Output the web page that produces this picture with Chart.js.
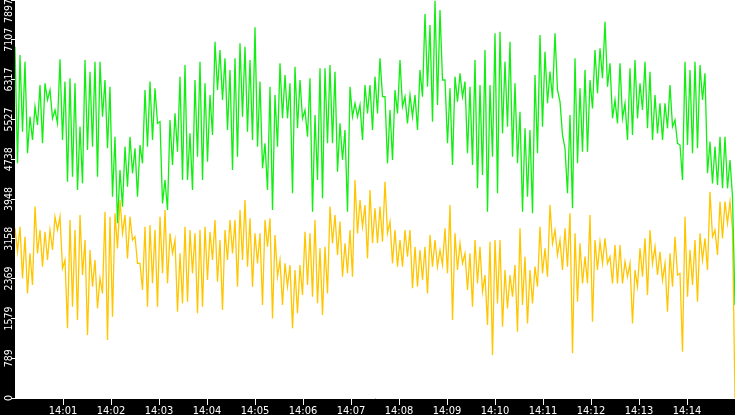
<!DOCTYPE html>
<html>
<head>
<meta charset="utf-8">
<script src="https://cdn.jsdelivr.net/npm/chart.js@4/dist/chart.umd.min.js"></script>
<style>
  html, body { margin: 0; padding: 0; background: #000; }
  canvas { display: block; }
</style>
</head>
<body>
<canvas id="tickChart" width="735" height="415"></canvas>
<script>
// Two tick series, 14:00 - 14:15, one value every sampleStep seconds
const sampleStep = 900 / 288;

const greenVals = [
  6971, 4656, 6806, 5284, 6673, 4855, 5582, 5119, 5781, 5417,
  6210, 5053, 6243, 5913, 6111, 5549, 5714, 5450, 6720, 5119,
  6277, 4292, 6343, 4392, 6243, 4127, 5384, 4259, 6706, 4921,
  6475, 4987, 6673, 4392, 6673, 5582, 6310, 4954, 6177, 3995,
  5185, 3466, 4524, 3796, 4987, 4193, 5185, 4458, 4954, 3995,
  5020, 4656, 6111, 4987, 6277, 5119, 6144, 5450, 5483, 3862,
  4325, 3730, 5516, 4623, 5648, 4888, 6376, 4325, 6607, 4325,
  5251, 4127, 6310, 4788, 6673, 4325, 6243, 4689, 6012, 5218,
  7070, 6111, 6905, 5913, 6740, 5318, 6508, 4524, 6740, 4788,
  7037, 5582, 6971, 5284, 6706, 5119, 7355, 4987, 6277, 4557,
  5053, 4127, 6177, 3730, 6012, 4987, 6640, 5549, 6409, 5549,
  6243, 4061, 6574, 5351, 6310, 5549, 5714, 5185, 6343, 3697,
  5615, 4325, 6541, 3962, 6541, 5053, 6607, 5053, 6475, 4491,
  5450, 4722, 5318, 3697, 6177, 5582, 5847, 5582, 5814, 5119,
  6210, 5648, 6210, 5318, 6376, 5648, 6740, 5979, 5979, 4656,
  5714, 4722, 6111, 5648, 6706, 5781, 5979, 5450, 6012, 5582,
  6012, 5318, 6508, 5979, 7619, 6177, 7401, 5483, 7880, 5814,
  7699, 6310, 6310, 5053, 6144, 4623, 6376, 5880, 6442, 5979,
  6277, 4855, 6177, 4623, 6706, 4160, 6210, 4425, 6905, 3697,
  6210, 4788, 7236, 4061, 7269, 5251, 6673, 5384, 7070, 4788,
  6243, 4656, 5681, 3697, 5351, 3995, 5318, 3664, 6409, 4855,
  7203, 5384, 6872, 5847, 6475, 5946, 7236, 6111, 5880, 5218,
  4954, 4061, 5615, 3763, 6740, 4656, 6144, 4888, 6508, 4888,
  6310, 5747, 6905, 6045, 6938, 6343, 7467, 6177, 6640, 5549,
  5913, 5450, 6640, 5549, 5847, 5119, 6541, 5218, 6706, 5549,
  6243, 5714, 6673, 5351, 6475, 5119, 6012, 5251, 5847, 5119,
  5847, 5351, 6210, 5384, 5516, 5053, 5020, 4325, 6673, 5020,
  6508, 4855, 6673, 4954, 6607, 5913, 6442, 4458, 5086, 4259,
  4987, 4226, 5185, 4160, 5185, 4160, 4722, 3995,
  1845
];

const goldVals = [
  3366, 2903, 3399, 2374, 3201, 2076, 2870, 2242, 3797, 2870,
  3333, 2606, 3300, 2738, 3333, 2936, 3598, 3333, 3598, 2573,
  2738, 1382, 3532, 1812, 3333, 1548, 3631, 2441, 3135, 1250,
  2936, 2209, 2738, 1779, 2374, 2076, 3697, 1151, 3598, 1613,
  3664, 2969, 3929, 3267, 3631, 2771, 3598, 3135, 3201, 2672,
  2672, 2143, 3399, 1812, 3432, 2275, 3333, 1812, 3598, 2474,
  3730, 2275, 3267, 2870, 3135, 1713, 2870, 1878, 3399, 1911,
  3333, 2474, 3267, 1680, 3333, 1812, 3399, 2341, 3300, 2738,
  3532, 2308, 3135, 1746, 3333, 2738, 3532, 2870, 3532, 2209,
  3730, 2738, 3929, 2606, 3565, 2209, 3267, 2672, 3267, 1845,
  3532, 3002, 3565, 1580, 3234, 2408, 2738, 1845, 2672, 2209,
  2639, 1382, 2540, 1680, 2639, 2043, 3300, 2242, 3267, 2010,
  3532, 1878, 2969, 1646, 3002, 2076, 3797, 3069, 3631, 2837,
  3499, 2408, 3069, 2474, 3333, 2408, 4326, 3267, 3929, 3399,
  3830, 2771, 4127, 3069, 3764, 3069, 3797, 3102, 4292, 3267,
  3499, 2672, 3333, 2606, 3135, 2606, 3333, 2804, 3333, 2176,
  3002, 2209, 2936, 2341, 3002, 2076, 3234, 2606, 3135, 2606,
  2936, 2639, 3366, 2474, 3830, 1548, 3267, 2540, 3069, 2672,
  2870, 2143, 2870, 1812, 3135, 2275, 3002, 2110, 2441, 1448,
  3102, 853, 3135, 1878, 3135, 1415, 2540, 1779, 2441, 2010,
  2639, 1316, 3366, 1845, 2804, 1481, 2540, 1878, 2606, 2209,
  3399, 2474, 2969, 2408, 3830, 3069, 3333, 2837, 3135, 2540,
  3366, 2606, 3664, 886, 3267, 1911, 3069, 2275, 2804, 2275,
  3631, 1514, 3135, 2540, 3102, 2672, 3168, 2672, 2804, 2275,
  3036, 2275, 3036, 2275, 2705, 2408, 2672, 1481, 2540, 2209,
  2969, 2408, 3168, 2043, 3333, 2672, 3002, 2441, 2903, 2341,
  2672, 1713, 2870, 2209, 3201, 2441, 2474, 919, 3598, 2010,
  2936, 2242, 3135, 1911, 3267, 2738, 3168, 2540, 4094, 3201,
  3333, 2837, 3896, 3168, 3896, 3466, 3896, 3333,
  0
];

// axis ticks (seconds after 14:00 on x)
const xTickSeconds = [60, 120, 180, 240, 300, 360, 420, 480, 540, 600, 660, 720, 780, 840];
const xTickLabels = ['14:01', '14:02', '14:03', '14:04', '14:05', '14:06', '14:07',
                     '14:08', '14:09', '14:10', '14:11', '14:12', '14:13', '14:14'];
const yMax = 7897;
const yTickValues = [0, 789.7, 1579.4, 2369.1, 3158.8, 3948.5, 4738.2, 5527.9, 6317.6, 7107.3, 7897];
const yTickLabels = ['0', '789', '1579', '2369', '3158', '3948', '4738', '5527', '6317', '7107', '7897'];

const labelFont = '"DejaVu Sans Condensed", "DejaVu Sans", sans-serif';

function toPoints(vals) {
  return vals.map((v, i) => ({ x: i * sampleStep, y: v }));
}

// black frame, white plot area, rotated y labels
const framePlugin = {
  id: 'frame',
  beforeDraw(chart) {
    const { ctx, chartArea: a } = chart;
    ctx.save();
    ctx.fillStyle = '#000';
    ctx.fillRect(0, 0, chart.width, chart.height);
    ctx.fillStyle = '#fff';
    ctx.fillRect(a.left, a.top, a.right - a.left, a.bottom - a.top);
    ctx.restore();
  },
  afterDraw(chart) {
    const { ctx } = chart;
    const ys = chart.scales.y;
    ctx.save();
    ctx.fillStyle = '#fff';
    ctx.font = '10.5px ' + labelFont;
    ctx.textAlign = 'center';
    ctx.textBaseline = 'alphabetic';
    ys.ticks.forEach((t, i) => {
      const label = yTickLabels[i];
      const w = ctx.measureText(label).width;
      const y = Math.max(ys.getPixelForTick(i), w / 2 - 1);
      ctx.save();
      ctx.translate(12, y);
      ctx.rotate(-Math.PI / 2);
      ctx.fillText(label, 0, 0);
      ctx.restore();
    });
    ctx.restore();
  }
};

new Chart(document.getElementById('tickChart'), {
  type: 'line',
  data: {
    datasets: [
      { data: toPoints(greenVals), borderColor: '#11ee11', borderWidth: 1.3, pointRadius: 0, tension: 0, fill: false },
      { data: toPoints(goldVals), borderColor: '#ffc600', borderWidth: 1.3, pointRadius: 0, tension: 0, fill: false }
    ]
  },
  options: {
    responsive: false,
    animation: false,
    devicePixelRatio: 1,
    layout: { padding: 0 },
    plugins: { legend: { display: false }, tooltip: { enabled: false } },
    scales: {
      x: {
        type: 'linear',
        min: 0,
        max: 900,
        afterBuildTicks: s => { s.ticks = xTickSeconds.map(v => ({ value: v })); },
        afterFit: s => { s.height = 17; s.paddingLeft = 0; s.paddingRight = 0; },
        ticks: {
          color: '#fff',
          font: { family: labelFont, size: 11 },
          padding: 0,
          maxRotation: 0,
          autoSkip: false,
          callback: (v, i) => xTickLabels[i]
        },
        grid: { drawOnChartArea: false, drawTicks: true, tickLength: 7, color: '#fff' },
        border: { display: true, color: '#fff', width: 1 }
      },
      y: {
        min: 0,
        max: yMax,
        afterBuildTicks: s => { s.ticks = yTickValues.map(v => ({ value: v })); },
        afterFit: s => { s.width = 15; s.paddingTop = 0; s.paddingBottom = 0; },
        ticks: { display: false },
        grid: { drawOnChartArea: false, drawTicks: true, tickLength: 4, color: '#fff' },
        border: { display: false }
      }
    }
  },
  plugins: [framePlugin]
});
</script>
</body>
</html>
